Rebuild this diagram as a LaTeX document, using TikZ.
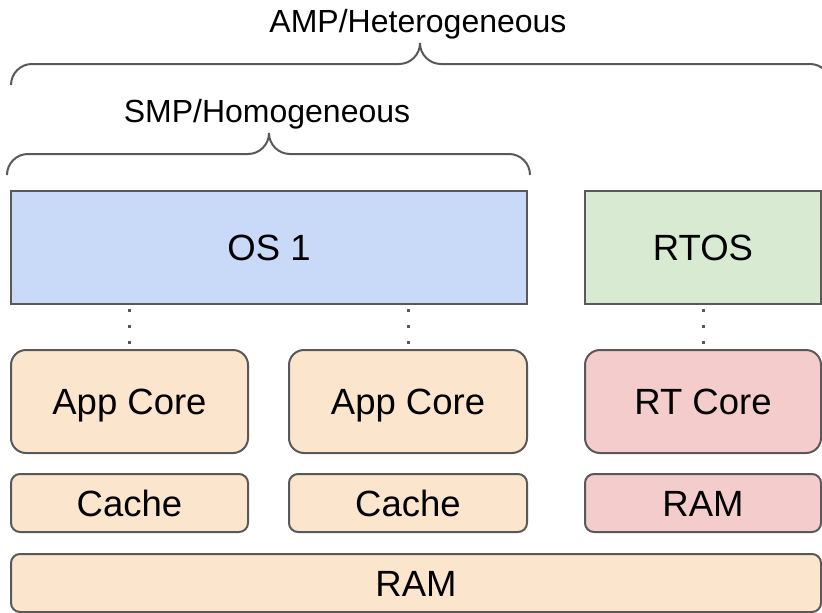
\documentclass[tikz,border=0pt]{standalone}
\usepackage{fontspec}
\setmainfont{Liberation Sans}
\definecolor{osblue}{HTML}{C9DAF8}
\definecolor{rtgreen}{HTML}{D9EAD3}
\definecolor{appfill}{HTML}{FCE5CD}
\definecolor{rtfill}{HTML}{F4CCCC}
\definecolor{linegray}{HTML}{595959}
\tikzset{
  box/.style={draw=linegray, line width=2pt, inner sep=0pt,
    text height=26pt, text depth=0pt,
    font=\fontsize{36.5}{42}\selectfont},
  osbox/.style={box, fill=osblue},
  rtosbox/.style={box, fill=rtgreen},
  corebox/.style={box, fill=appfill, rounded corners=15pt},
  rtcorebox/.style={box, fill=rtfill, rounded corners=15pt},
  membox/.style={box, fill=appfill, rounded corners=9pt},
  rtmembox/.style={box, fill=rtfill, rounded corners=9pt},
  link/.style={draw=linegray, line width=3pt, dash pattern=on 3pt off 13pt, dash phase=12pt},
  brace/.style={draw=linegray, line width=2pt, rounded corners=21pt},
  label/.style={font=\fontsize{32}{38}\selectfont, anchor=base}
}
\begin{document}
\begin{tikzpicture}[x=1pt, y=-1pt]
      \useasboundingbox (0,0) rectangle (822,613);
      \def \Boxes{
        os/269/247.5/516/113/osbox/OS 1,
        rtos/703/247.5/236/113/rtosbox/RTOS,
        app1/129.5/401.5/237/103/corebox/App Core,
        app2/408/401.5/238/103/corebox/App Core,
        rtcore/703/401.5/236/103/rtcorebox/RT Core,
        cache1/129.5/503/237/58/membox/Cache,
        cache2/408/503/238/58/membox/Cache,
        rtram/703/503/236/58/rtmembox/RAM,
        ram/416/583/810/58/membox/RAM}
      \def \Links{
        os/app1,
        os/app2,
        rtos/rtcore}
      \foreach \id / \x / \y / \w / \h / \sty / \txt in \Boxes{
        \node[\sty, minimum width=\w pt, minimum height=\h pt] (\id) at (\x, \y) {\txt};
      }
      \foreach \a / \b in \Links{
        \path[link] (\b.north |- \a.south) -- (\b.north);
      }
      % braces
      \node[label] (smp) at (267, 122) {SMP/Homogeneous};
      \node[label] (amp) at (418, 32) {AMP/Heterogeneous};
      \draw[brace] (7, 175) -- (7, 154) -- (269, 154) -- (269, 133);
      \draw[brace] (269, 133) -- (269, 154) -- (530, 154) -- (530, 175);
      \draw[brace] (11, 85) -- (11, 64) -- (420, 64) -- (420, 43);
      \draw[brace] (420, 43) -- (420, 64) -- (831, 64) -- (831, 85);
    \end{tikzpicture}
\end{document}
